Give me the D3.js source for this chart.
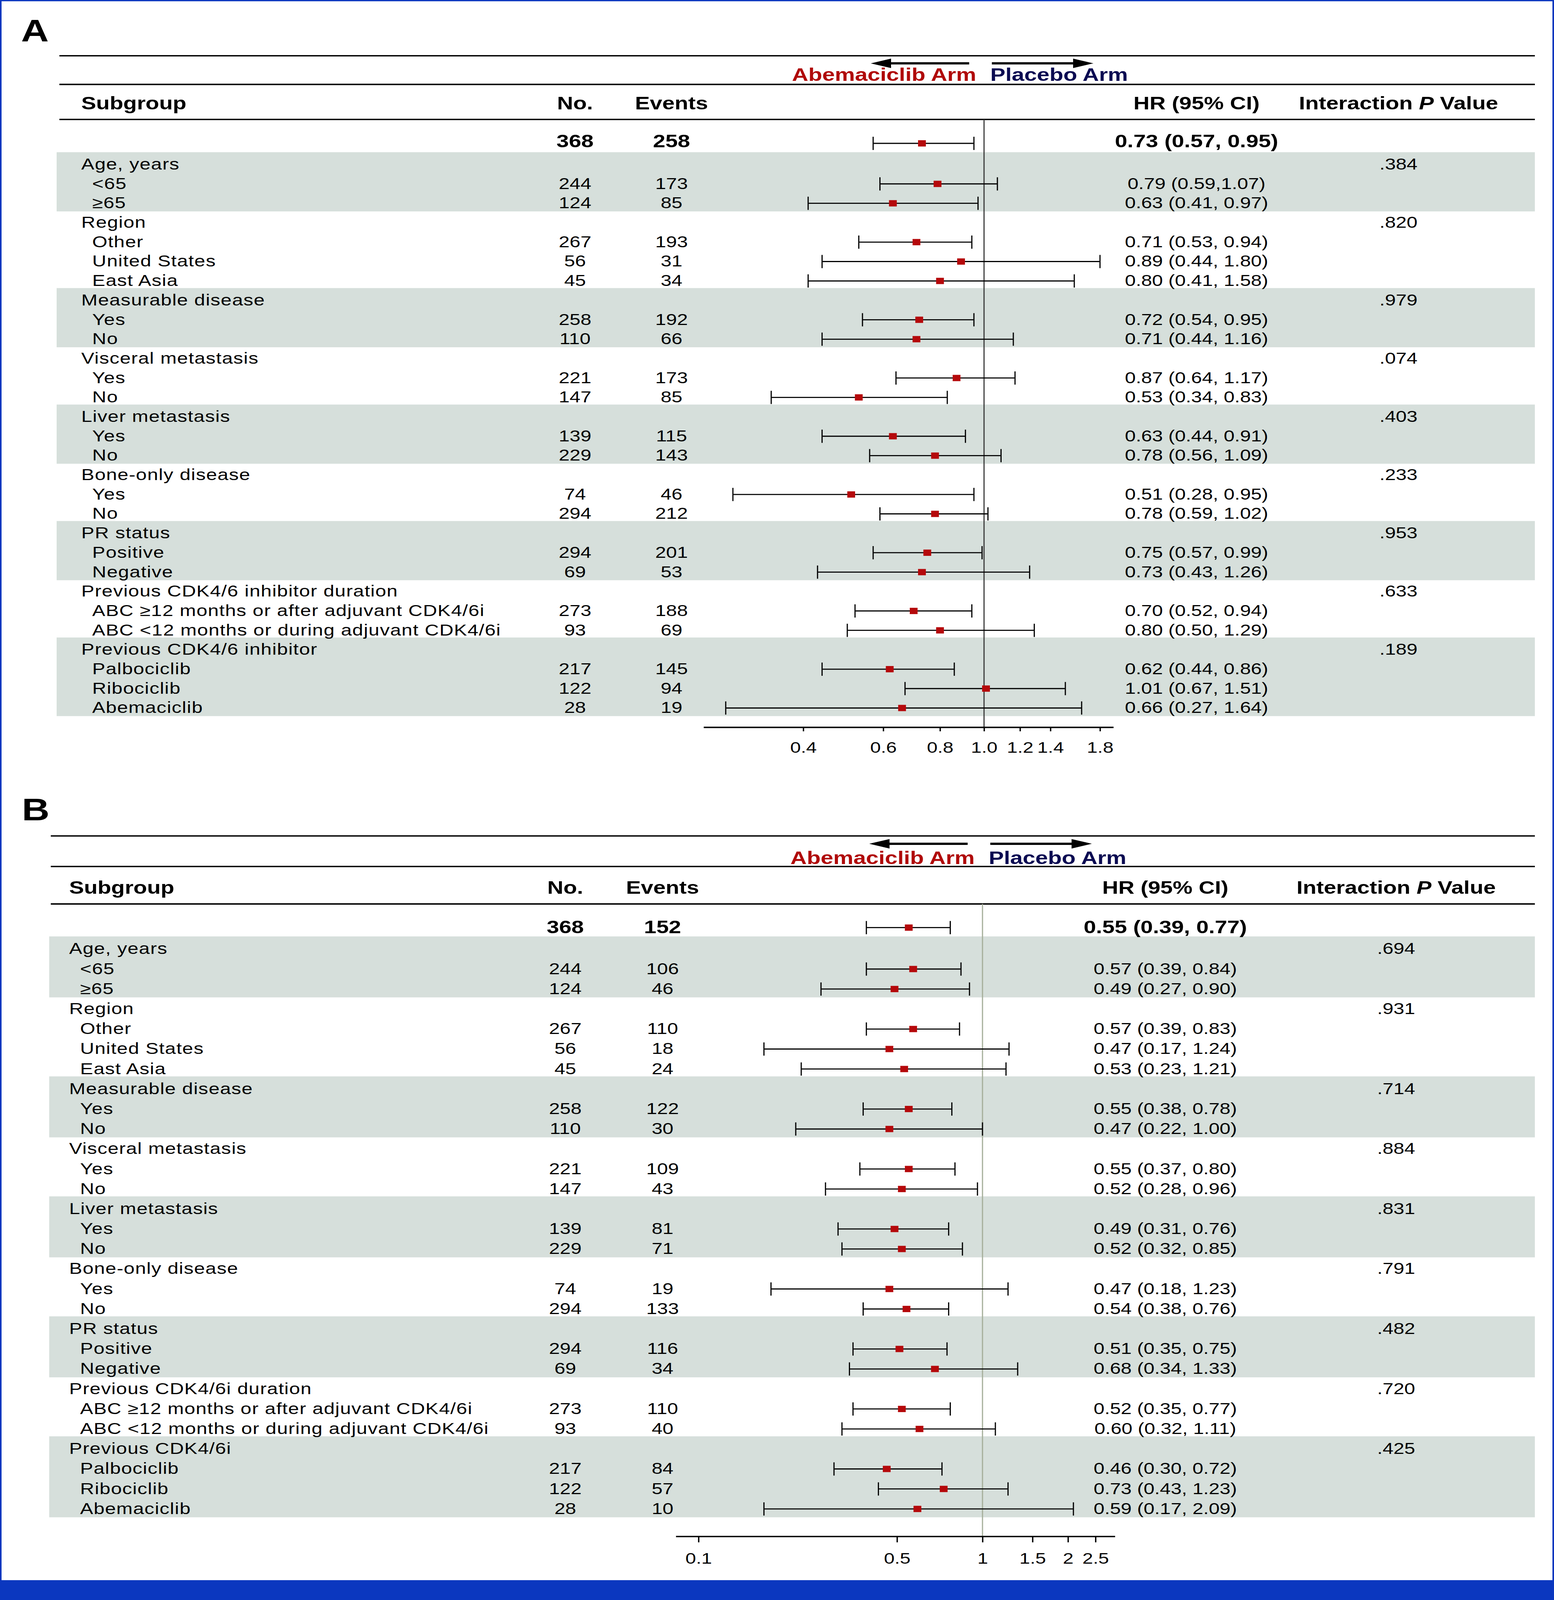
<!DOCTYPE html>
<html><head><meta charset="utf-8">
<script src="https://cdn.jsdelivr.net/npm/d3@7"></script>
<style>
html,body{margin:0;padding:0;background:#fff;width:100%;height:100%;overflow:hidden;}
svg{display:block;width:100vw;height:100vh;}
text{font-family:"Liberation Sans",Arial,Helvetica,sans-serif;fill:#000;}
</style>
</head><body>
<svg id="chart" viewBox="0 0 3978 5078" preserveAspectRatio="none"></svg>
<script>
// ---------------- DATA ----------------
const subgroupsA = ["Age, years","<65","≥65","Region","Other","United States","East Asia","Measurable disease","Yes","No","Visceral metastasis","Yes","No","Liver metastasis","Yes","No","Bone-only disease","Yes","No","PR status","Positive","Negative","Previous CDK4/6 inhibitor duration","ABC ≥12 months or after adjuvant CDK4/6i","ABC <12 months or during adjuvant CDK4/6i","Previous CDK4/6 inhibitor","Palbociclib","Ribociclib","Abemaciclib"];
const subgroupsB = ["Age, years","<65","≥65","Region","Other","United States","East Asia","Measurable disease","Yes","No","Visceral metastasis","Yes","No","Liver metastasis","Yes","No","Bone-only disease","Yes","No","PR status","Positive","Negative","Previous CDK4/6i duration","ABC ≥12 months or after adjuvant CDK4/6i","ABC <12 months or during adjuvant CDK4/6i","Previous CDK4/6i","Palbociclib","Ribociclib","Abemaciclib"];
const rowLevel = [0,1,1,0,1,1,1,0,1,1,0,1,1,0,1,1,0,1,1,0,1,1,0,1,1,0,1,1,1];

const patientsN = [null,244,124,null,267,56,45,null,258,110,null,221,147,null,139,229,null,74,294,null,294,69,null,273,93,null,217,122,28];

const eventsA = [null,173,85,null,193,31,34,null,192,66,null,173,85,null,115,143,null,46,212,null,201,53,null,188,69,null,145,94,19];
const hrA = [null,0.79,0.63,null,0.71,0.89,0.80,null,0.72,0.71,null,0.87,0.53,null,0.63,0.78,null,0.51,0.78,null,0.75,0.73,null,0.70,0.80,null,0.62,1.01,0.66];
const loA = [null,0.59,0.41,null,0.53,0.44,0.41,null,0.54,0.44,null,0.64,0.34,null,0.44,0.56,null,0.28,0.59,null,0.57,0.43,null,0.52,0.50,null,0.44,0.67,0.27];
const hiA = [null,1.07,0.97,null,0.94,1.80,1.58,null,0.95,1.16,null,1.17,0.83,null,0.91,1.09,null,0.95,1.02,null,0.99,1.26,null,0.94,1.29,null,0.86,1.51,1.64];
const hrTextA = [null,"0.79 (0.59,1.07)","0.63 (0.41, 0.97)",null,"0.71 (0.53, 0.94)","0.89 (0.44, 1.80)","0.80 (0.41, 1.58)",null,"0.72 (0.54, 0.95)","0.71 (0.44, 1.16)",null,"0.87 (0.64, 1.17)","0.53 (0.34, 0.83)",null,"0.63 (0.44, 0.91)","0.78 (0.56, 1.09)",null,"0.51 (0.28, 0.95)","0.78 (0.59, 1.02)",null,"0.75 (0.57, 0.99)","0.73 (0.43, 1.26)",null,"0.70 (0.52, 0.94)","0.80 (0.50, 1.29)",null,"0.62 (0.44, 0.86)","1.01 (0.67, 1.51)","0.66 (0.27, 1.64)"];
const pValA = [".384",null,null,".820",null,null,null,".979",null,null,".074",null,null,".403",null,null,".233",null,null,".953",null,null,".633",null,null,".189",null,null,null];
const overallA = {n:368, events:258, hr:0.73, lo:0.57, hi:0.95, text:"0.73 (0.57, 0.95)"};
const ticksA = [0.4,0.6,0.8,1.0,1.2,1.4,1.8];
const tickLabelsA = ["0.4","0.6","0.8","1.0","1.2","1.4","1.8"];

const eventsB = [null,106,46,null,110,18,24,null,122,30,null,109,43,null,81,71,null,19,133,null,116,34,null,110,40,null,84,57,10];
const hrB = [null,0.57,0.49,null,0.57,0.47,0.53,null,0.55,0.47,null,0.55,0.52,null,0.49,0.52,null,0.47,0.54,null,0.51,0.68,null,0.52,0.60,null,0.46,0.73,0.59];
const loB = [null,0.39,0.27,null,0.39,0.17,0.23,null,0.38,0.22,null,0.37,0.28,null,0.31,0.32,null,0.18,0.38,null,0.35,0.34,null,0.35,0.32,null,0.30,0.43,0.17];
const hiB = [null,0.84,0.90,null,0.83,1.24,1.21,null,0.78,1.00,null,0.80,0.96,null,0.76,0.85,null,1.23,0.76,null,0.75,1.33,null,0.77,1.11,null,0.72,1.23,2.09];
const hrTextB = [null,"0.57 (0.39, 0.84)","0.49 (0.27, 0.90)",null,"0.57 (0.39, 0.83)","0.47 (0.17, 1.24)","0.53 (0.23, 1.21)",null,"0.55 (0.38, 0.78)","0.47 (0.22, 1.00)",null,"0.55 (0.37, 0.80)","0.52 (0.28, 0.96)",null,"0.49 (0.31, 0.76)","0.52 (0.32, 0.85)",null,"0.47 (0.18, 1.23)","0.54 (0.38, 0.76)",null,"0.51 (0.35, 0.75)","0.68 (0.34, 1.33)",null,"0.52 (0.35, 0.77)","0.60 (0.32, 1.11)",null,"0.46 (0.30, 0.72)","0.73 (0.43, 1.23)","0.59 (0.17, 2.09)"];
const pValB = [".694",null,null,".931",null,null,null,".714",null,null,".884",null,null,".831",null,null,".791",null,null,".482",null,null,".720",null,null,".425",null,null,null];
const overallB = {n:368, events:152, hr:0.55, lo:0.39, hi:0.77, text:"0.55 (0.39, 0.77)"};
const ticksB = [0.1,0.5,1,1.5,2,2.5];
const tickLabelsB = ["0.1","0.5","1","1.5","2","2.5"];

const headerLabels = {subgroup:"Subgroup", n:"No.", events:"Events", hr:"HR (95% CI)"};
const armLabels = ["Abemaciclib Arm","Placebo Arm"];

// ---------------- STYLE / LAYOUT ----------------
const W = 3978, H = 5078;
const BLUE = "#0B37BF", SHADE = "#D6DFDB", RED = "#B5090B", ARM_RED = "#B00A0A", ARM_NAVY = "#0B0B52";
const FONT_N = 50, FONT_B = 57, LABEL_SPACING = 1.3, FONT_TICK = 49;

const svg = d3.select("#chart");
svg.append("rect").attr("width", W).attr("height", H).attr("fill", "#fff");

function drawCI(g, x, cy, lo, hi, hr) {
  g.append("line").attr("x1", x(lo)).attr("x2", x(hi)).attr("y1", cy).attr("y2", cy)
    .attr("stroke", "#000").attr("stroke-width", 3.5);
  [lo, hi].forEach(v => g.append("line").attr("x1", x(v)).attr("x2", x(v))
    .attr("y1", cy - 21).attr("y2", cy + 21).attr("stroke", "#000").attr("stroke-width", 3));
  g.append("rect").attr("x", x(hr) - 10).attr("y", cy - 10).attr("width", 20).attr("height", 20).attr("fill", RED);
}

function drawPanel(cfg) {
  const g = svg.append("g");
  const x = d3.scaleLog().domain(cfg.domain).range(cfg.xRange);
  const y = d3.scaleLinear().domain([0, cfg.labels.length - 1]).range(cfg.rowRange);
  const step = y(1) - y(0);
  const x1 = x(1);

  // panel letter
  g.append("text").attr("x", cfg.letterX).attr("y", cfg.letterY)
    .attr("font-size", 98).attr("font-weight", "bold").text(cfg.letter);

  // shaded bands (alternate groups)
  const groups = [];
  cfg.level.forEach((lv, i) => { if (lv === 0) groups.push({start: i, end: i}); else groups[groups.length - 1].end = i; });
  g.selectAll("rect.band").data(groups.filter((d, i) => i % 2 === 0)).join("rect")
    .attr("class", "band")
    .attr("x", cfg.bandX).attr("width", cfg.ruleX2 - cfg.bandX)
    .attr("y", d => y(d.start) - 0.6 * step)
    .attr("height", d => y(d.end) - y(d.start) + 1.05 * step)
    .attr("fill", SHADE);

  // horizontal rules
  g.selectAll("line.rule").data(cfg.rules).join("line")
    .attr("x1", cfg.ruleX1).attr("x2", cfg.ruleX2)
    .attr("y1", d => d).attr("y2", d => d)
    .attr("stroke", "#000").attr("stroke-width", 4.5);

  // arrows
  const ay = cfg.arrowY;
  const arrows = [{from: x1 - 38, to: x1 - 290}, {from: x1 + 20, to: x1 + 280}];
  arrows.forEach(a => {
    const dir = Math.sign(a.to - a.from);
    const headLen = 52, headH = 15;
    g.append("line").attr("x1", a.from).attr("x2", a.to - dir * headLen + dir * 2)
      .attr("y1", ay).attr("y2", ay).attr("stroke", "#000").attr("stroke-width", 7);
    g.append("path")
      .attr("d", `M${a.to},${ay} L${a.to - dir * headLen},${ay - headH} L${a.to - dir * headLen},${ay + headH} Z`)
      .attr("fill", "#000");
  });
  g.append("text").attr("x", x1 - 20).attr("y", cfg.armY).attr("text-anchor", "end")
    .attr("font-size", 58).attr("font-weight", "bold").style("fill", ARM_RED).text(armLabels[0]);
  g.append("text").attr("x", x1 + 16).attr("y", cfg.armY).attr("text-anchor", "start")
    .attr("font-size", 58).attr("font-weight", "bold").style("fill", ARM_NAVY).text(armLabels[1]);

  // header
  const hy = cfg.headerY;
  const hdr = (tx, anchor, s) => g.append("text").attr("x", tx).attr("y", hy).attr("text-anchor", anchor)
    .attr("font-size", FONT_B).attr("font-weight", "bold").text(s);
  hdr(cfg.groupX, "start", headerLabels.subgroup);
  hdr(cfg.nX, "middle", headerLabels.n);
  hdr(cfg.evX, "middle", headerLabels.events);
  hdr(cfg.hrX, "middle", headerLabels.hr);
  const ph = g.append("text").attr("x", cfg.pX).attr("y", hy).attr("text-anchor", "middle")
    .attr("font-size", FONT_B).attr("font-weight", "bold");
  ph.append("tspan").text("Interaction ");
  ph.append("tspan").attr("font-style", "italic").text("P");
  ph.append("tspan").text(" Value");

  // reference line at HR = 1
  g.append("line").attr("x1", x1).attr("x2", x1).attr("y1", cfg.rules[2]).attr("y2", cfg.axisY)
    .attr("stroke", cfg.refColor).attr("stroke-width", 3);

  // overall row
  const oy = cfg.overallY;
  const ov = cfg.overall;
  const ob = (tx, s) => g.append("text").attr("x", tx).attr("y", oy + 19).attr("text-anchor", "middle")
    .attr("font-size", FONT_B).attr("font-weight", "bold").text(s);
  ob(cfg.nX, ov.n); ob(cfg.evX, ov.events); ob(cfg.hrX, ov.text);
  drawCI(g, x, oy + cfg.overallCIdy, ov.lo, ov.hi, ov.hr);

  // rows
  const rows = cfg.labels.map((lab, i) => ({
    i, lab, lv: cfg.level[i], n: cfg.n[i], ev: cfg.events[i], hr: cfg.hr[i], lo: cfg.lo[i], hi: cfg.hi[i],
    txt: cfg.hrText[i], p: cfg.pval[i]
  }));
  const rg = g.selectAll("g.row").data(rows).join("g").attr("class", "row");
  rg.append("text").attr("x", d => d.lv === 0 ? cfg.groupX : cfg.childX).attr("y", d => y(d.i) + 18)
    .attr("font-size", FONT_N).attr("letter-spacing", LABEL_SPACING).text(d => d.lab);
  rg.filter(d => d.n != null).append("text").attr("x", cfg.nX).attr("y", d => y(d.i) + 18)
    .attr("text-anchor", "middle").attr("font-size", FONT_N).text(d => d.n);
  rg.filter(d => d.ev != null).append("text").attr("x", cfg.evX).attr("y", d => y(d.i) + 18)
    .attr("text-anchor", "middle").attr("font-size", FONT_N).text(d => d.ev);
  rg.filter(d => d.txt != null).append("text").attr("x", cfg.hrX).attr("y", d => y(d.i) + 18)
    .attr("text-anchor", "middle").attr("font-size", FONT_N).text(d => d.txt);
  rg.filter(d => d.p != null).append("text").attr("x", cfg.pX).attr("y", d => y(d.i) + 18)
    .attr("text-anchor", "middle").attr("font-size", FONT_N).text(d => d.p);
  rows.filter(d => d.hr != null).forEach(d => drawCI(g, x, y(d.i) + 2, d.lo, d.hi, d.hr));

  // axis
  const axis = d3.axisBottom(x).tickValues(cfg.ticks)
    .tickFormat((d, i) => cfg.tickLabels[i])
    .tickSize(cfg.tickLen).tickSizeOuter(0).tickPadding(33);
  const ag = g.append("g").attr("transform", `translate(0,${cfg.axisY})`).call(axis);
  ag.select(".domain").attr("stroke", "#000").attr("stroke-width", 4.5);
  ag.selectAll(".tick line").attr("stroke", "#000").attr("stroke-width", 3.5);
  ag.selectAll(".tick text").attr("font-size", FONT_TICK).attr("fill", "#000")
    .attr("font-family", "Liberation Sans, Arial, sans-serif");
}

drawPanel({
  letter: "A", letterX: 54, letterY: 131,
  labels: subgroupsA, level: rowLevel, n: patientsN, events: eventsA, hr: hrA, lo: loA, hi: hiA,
  hrText: hrTextA, pval: pValA, overall: overallA,
  ticks: ticksA, tickLabels: tickLabelsA,
  domain: [0.2413, 1.926], xRange: [1801, 2850],
  rowRange: [520, 2245],
  rules: [177, 268, 379], ruleX1: 152, ruleX2: 3929, bandX: 145,
  arrowY: 201, armY: 257, headerY: 347, overallY: 449, overallCIdy: 6,
  groupX: 208, childX: 236, nX: 1472, evX: 1719, hrX: 3063, pX: 3580,
  axisY: 2308, tickLen: 13, refColor: "#3c3c3c"
});

drawPanel({
  letter: "B", letterX: 56, letterY: 2604,
  labels: subgroupsB, level: rowLevel, n: patientsN, events: eventsB, hr: hrB, lo: loB, hi: hiB,
  hrText: hrTextB, pval: pValB, overall: overallB,
  ticks: ticksB, tickLabels: tickLabelsB,
  domain: [0.0832, 2.926], xRange: [1730, 2854],
  rowRange: [3010, 4787],
  rules: [2653, 2750, 2869], ruleX1: 130, ruleX2: 3929, bandX: 126,
  arrowY: 2678, armY: 2742, headerY: 2837, overallY: 2943, overallCIdy: 1,
  groupX: 177, childX: 205, nX: 1447, evX: 1696, hrX: 2983, pX: 3574,
  axisY: 4876, tickLen: 19, refColor: "#A5AF9A"
});

// blue frame
svg.append("rect").attr("x", 0).attr("y", 0).attr("width", W).attr("height", 4).attr("fill", BLUE);
svg.append("rect").attr("x", 0).attr("y", 0).attr("width", 4).attr("height", H).attr("fill", BLUE);
svg.append("rect").attr("x", W - 4).attr("y", 0).attr("width", 4).attr("height", H).attr("fill", BLUE);
svg.append("rect").attr("x", 0).attr("y", 5015).attr("width", W).attr("height", H - 5015).attr("fill", BLUE);
</script>
</body></html>
